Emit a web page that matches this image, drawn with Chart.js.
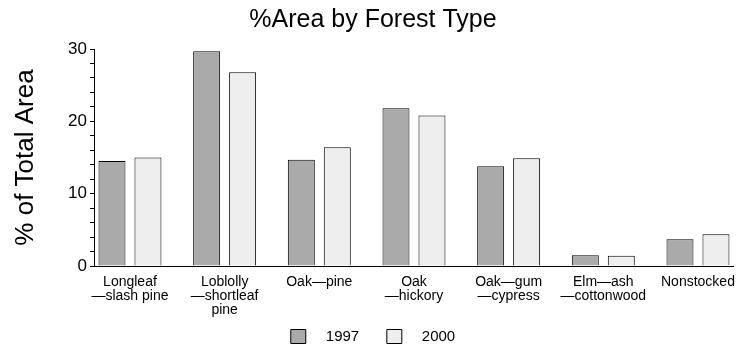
<!DOCTYPE html>
<html>
<head>
<meta charset="utf-8">
<script src="https://cdn.jsdelivr.net/npm/chart.js@4.4.1/dist/chart.umd.min.js"></script>
<style>
  html, body { margin: 0; padding: 0; background: #fff; }
  #wrap { width: 750px; height: 350px; }
</style>
</head>
<body>
<div id="wrap"><canvas id="forestChart"></canvas></div>
<script>
// forest types, one entry per group of bars (lines of the axis label)
const forestTypes = [
    ['Longleaf', '\u2014slash pine'],
    ['Loblolly', '\u2014shortleaf', 'pine'],
    ['Oak\u2014pine'],
    ['Oak', '\u2014hickory'],
    ['Oak\u2014gum', '\u2014cypress'],
    ['Elm\u2014ash', '\u2014cottonwood'],
    ['Nonstocked']
];
const area1997 = [14.5, 29.7, 14.7, 21.8, 13.8, 1.5, 3.7];
const area2000 = [15.0, 26.8, 16.4, 20.8, 14.9, 1.4, 4.4];
const yearLabels = ['1997', '2000'];
const yTicks = [0, 10, 20, 30];

const fontFamily = '"Liberation Sans", Arial, Helvetica, sans-serif';

function toPoints(values) {
    return values.map((v, i) => ({ x: i, y: v }));
}

const ctx = document.getElementById('forestChart').getContext('2d');
const forestChart = new Chart(ctx, {
    type: 'bar',
    data: {
        datasets: [{
            label: yearLabels[0],
            data: toPoints(area1997),
            backgroundColor: '#aaaaaa',
            borderColor: '#000000',
            borderWidth: 1
        }, {
            label: yearLabels[1],
            data: toPoints(area2000),
            backgroundColor: '#eeeeee',
            borderColor: '#000000',
            borderWidth: 1
        }]
    },
    options: {
        responsive: true,
        maintainAspectRatio: false,
        animation: false,
        categoryPercentage: 0.76,
        barPercentage: 0.75,
        layout: { padding: { left: 13, right: 17, top: 0, bottom: -4 } },
        plugins: {
            title: {
                display: true,
                text: '%Area by Forest Type',
                color: '#000',
                font: { family: fontFamily, size: 25, weight: 'normal', lineHeight: 1.2 },
                padding: { top: 5, bottom: 14 }
            },
            legend: {
                position: 'bottom',
                labels: {
                    color: '#000',
                    font: { family: fontFamily, size: 15 },
                    boxWidth: 15,
                    boxHeight: 14,
                    padding: 11,
                    generateLabels(chart) {
                        // wider gaps round the year text, like the original
                        return Chart.defaults.plugins.legend.labels.generateLabels(chart)
                            .map((item, i) => ({
                                ...item,
                                text: '   ' + item.text + (i === 0 ? '    ' : ''),
                                lineWidth: 1,
                                strokeStyle: '#000'
                            }));
                    }
                }
            },
            tooltip: { enabled: false }
        },
        scales: {
            x: {
                type: 'linear',
                offset: false,
                min: -0.38,
                max: 6.37,
                grid: { display: false, drawTicks: false },
                border: { display: true, color: '#000', width: 1 },
                afterBuildTicks(scale) {
                    scale.ticks = forestTypes.map((_, i) => ({ value: i }));
                },
                afterFit(scale) {
                    scale.height = 52;
                },
                ticks: {
                    color: '#000',
                    padding: 9,
                    maxRotation: 0,
                    autoSkip: false,
                    font: { family: fontFamily, size: 14, lineHeight: 1.0 },
                    callback: (value) => forestTypes[value] || ''
                }
            },
            y: {
                min: 0,
                max: 30,
                grid: {
                    display: true,
                    drawOnChartArea: false,
                    drawTicks: true,
                    tickLength: 4,
                    tickColor: '#000'
                },
                border: { display: true, color: '#000', width: 1 },
                afterFit(scale) {
                    scale.width = 81;
                },
                ticks: {
                    stepSize: 2,
                    autoSkip: false,
                    color: '#000',
                    padding: 3,
                    font: { family: fontFamily, size: 17 },
                    callback: (value) => yTicks.includes(value) ? value : ''
                },
                title: {
                    display: true,
                    text: '% of Total Area',
                    color: '#000',
                    font: { family: fontFamily, size: 26, lineHeight: 1.0 },
                    padding: { top: 0, bottom: 0 }
                }
            }
        }
    }
});
</script>
</body>
</html>
